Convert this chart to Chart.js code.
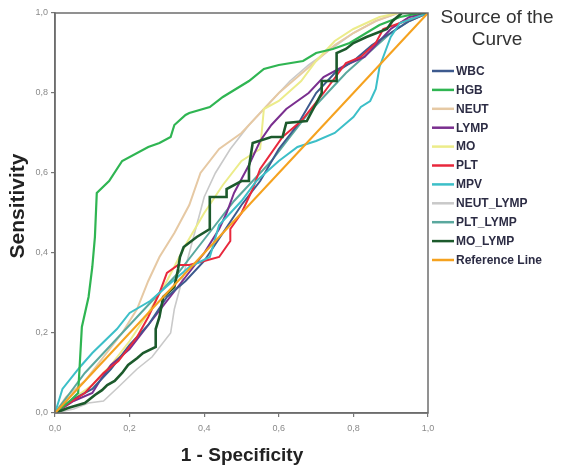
<!DOCTYPE html>
<html>
<head>
<meta charset="utf-8">
<script src="https://cdn.jsdelivr.net/npm/chart.js@4/dist/chart.umd.min.js"></script>
<style>
  body { margin: 0; background: #fff; }
  #wrap { width: 563px; height: 468px; }
</style>
</head>
<body>
<div id="wrap"><canvas id="rocChart" width="563" height="468"></canvas></div>
<script>
// ROC curves, points are [1 - specificity, sensitivity]
const wbc = [[0,0],[0.04,0.03],[0.1,0.06],[0.15,0.11],[0.2,0.17],[0.25,0.22],[0.3,0.29],[0.35,0.33],[0.4,0.38],[0.45,0.45],[0.5,0.52],[0.55,0.58],[0.6,0.66],[0.65,0.72],[0.7,0.8],[0.75,0.85],[0.8,0.88],[0.85,0.92],[0.9,0.95],[0.95,0.98],[1,1]];
const hgb = [[0,0],[0.04,0.03],[0.062,0.05],[0.066,0.115],[0.072,0.215],[0.09,0.29],[0.1,0.365],[0.107,0.44],[0.112,0.55],[0.145,0.58],[0.18,0.63],[0.25,0.665],[0.28,0.675],[0.31,0.69],[0.32,0.72],[0.35,0.745],[0.36,0.75],[0.415,0.765],[0.45,0.79],[0.52,0.83],[0.56,0.86],[0.6,0.87],[0.665,0.88],[0.7,0.9],[0.745,0.91],[0.79,0.925],[0.87,0.97],[0.925,0.99],[0.98,1],[1,1]];
const neut = [[0,0],[0.03,0.04],[0.08,0.08],[0.13,0.14],[0.18,0.2],[0.22,0.26],[0.25,0.33],[0.28,0.39],[0.32,0.45],[0.36,0.52],[0.39,0.6],[0.44,0.66],[0.5,0.7],[0.55,0.75],[0.6,0.8],[0.65,0.84],[0.7,0.88],[0.75,0.92],[0.8,0.95],[0.86,0.98],[0.92,1],[1,1]];
const lymp = [[0,0],[0.05,0.03],[0.1,0.05],[0.12,0.08],[0.15,0.12],[0.2,0.16],[0.25,0.22],[0.3,0.28],[0.35,0.34],[0.4,0.4],[0.44,0.46],[0.46,0.5],[0.48,0.55],[0.52,0.62],[0.55,0.68],[0.58,0.72],[0.62,0.76],[0.68,0.8],[0.72,0.84],[0.78,0.87],[0.83,0.89],[0.86,0.92],[0.9,0.96],[0.95,0.99],[1,1]];
const mo = [[0,0],[0.04,0.03],[0.1,0.07],[0.15,0.12],[0.2,0.18],[0.25,0.25],[0.3,0.33],[0.35,0.42],[0.4,0.5],[0.45,0.57],[0.5,0.63],[0.55,0.66],[0.56,0.76],[0.6,0.78],[0.66,0.83],[0.7,0.88],[0.75,0.93],[0.8,0.96],[0.87,0.99],[0.92,1],[1,1]];
const plt = [[0,0],[0.03,0.02],[0.08,0.05],[0.13,0.1],[0.17,0.13],[0.22,0.19],[0.25,0.24],[0.28,0.3],[0.3,0.35],[0.33,0.37],[0.36,0.37],[0.4,0.38],[0.44,0.39],[0.47,0.43],[0.47,0.46],[0.5,0.5],[0.53,0.56],[0.55,0.61],[0.61,0.69],[0.66,0.73],[0.72,0.8],[0.78,0.875],[0.82,0.89],[0.86,0.925],[0.88,0.96],[0.94,0.98],[1,1]];
const mpv = [[0,0],[0.02,0.06],[0.067,0.115],[0.1,0.15],[0.166,0.21],[0.2,0.25],[0.255,0.28],[0.31,0.325],[0.36,0.365],[0.415,0.39],[0.44,0.47],[0.5,0.53],[0.54,0.58],[0.6,0.63],[0.65,0.665],[0.7,0.68],[0.75,0.7],[0.8,0.74],[0.82,0.765],[0.845,0.78],[0.86,0.81],[0.87,0.865],[0.9,0.94],[0.925,0.975],[1,1]];
const neutLymp = [[0,0],[0.05,0.01],[0.09,0.025],[0.13,0.03],[0.17,0.065],[0.22,0.11],[0.26,0.14],[0.31,0.2],[0.32,0.26],[0.34,0.33],[0.36,0.4],[0.38,0.47],[0.4,0.54],[0.43,0.6],[0.47,0.66],[0.52,0.72],[0.58,0.78],[0.63,0.83],[0.68,0.87],[0.74,0.91],[0.8,0.95],[0.86,0.98],[0.92,1],[1,1]];
const pltLymp = [[0,0],[0.04,0.05],[0.08,0.1],[0.13,0.15],[0.18,0.2],[0.23,0.25],[0.28,0.3],[0.33,0.35],[0.38,0.41],[0.43,0.47],[0.48,0.53],[0.53,0.58],[0.58,0.63],[0.63,0.69],[0.68,0.75],[0.73,0.8],[0.78,0.85],[0.84,0.9],[0.9,0.95],[0.95,0.98],[1,1]];
const moLymp = [[0,0],[0.035,0.0125],[0.08,0.025],[0.107,0.045],[0.126,0.057],[0.14,0.07],[0.16,0.08],[0.18,0.1],[0.196,0.12],[0.22,0.137],[0.236,0.15],[0.27,0.165],[0.27,0.21],[0.28,0.24],[0.29,0.29],[0.32,0.315],[0.33,0.36],[0.335,0.39],[0.345,0.415],[0.38,0.44],[0.415,0.46],[0.415,0.54],[0.46,0.54],[0.46,0.56],[0.5,0.58],[0.52,0.58],[0.52,0.615],[0.53,0.675],[0.58,0.69],[0.61,0.69],[0.62,0.725],[0.675,0.73],[0.715,0.8],[0.715,0.83],[0.755,0.83],[0.755,0.9],[0.78,0.91],[0.8,0.925],[0.835,0.94],[0.89,0.96],[0.905,0.98],[0.93,1],[1,1]];
const refLine = [[0,0],[1,1]];

const seriesNames = ["WBC", "HGB", "NEUT", "LYMP", "MO", "PLT", "MPV", "NEUT_LYMP", "PLT_LYMP", "MO_LYMP", "Reference Line"];
const seriesData = [wbc, hgb, neut, lymp, mo, plt, mpv, neutLymp, pltLymp, moLymp, refLine];
const seriesColors = ["#3d5a8e", "#2fb552", "#e6c9a4", "#7a2f8f", "#ecec8a", "#e8283c", "#3cbfc8", "#c9c9c9", "#5aa89e", "#1c5a2c", "#f5a21f"];
const seriesWidths = [2, 2.2, 2, 2, 2, 2, 2, 1.6, 2, 2.6, 2.2];
const seriesOrder = [5, 2, 8, 5, 7, 4, 3, 9, 6, 1, 0];
const axisTicks = [0, 0.2, 0.4, 0.6, 0.8, 1];

const FONT = "'Liberation Sans', Arial, sans-serif";
const comma = (v) => v.toFixed(1).replace(".", ",");

// frame, axis titles and legend drawn by hand (SPSS style)
const rocDecor = {
  id: "rocDecor",
  afterDraw(chart) {
    const { ctx, chartArea } = chart;
    ctx.save();
    ctx.strokeStyle = "#6e6e6e";
    ctx.lineWidth = 1.5;
    ctx.strokeRect(chartArea.left, chartArea.top, chartArea.right - chartArea.left, chartArea.bottom - chartArea.top);

    // axis titles
    ctx.fillStyle = "#222";
    ctx.textAlign = "center";
    ctx.textBaseline = "middle";
    ctx.font = "bold 19px " + FONT;
    ctx.fillText("1 - Specificity", 242, 456);
    ctx.save();
    ctx.translate(18, 206);
    ctx.rotate(-Math.PI / 2);
    ctx.font = "bold 21px " + FONT;
    ctx.fillText("Sensitivity", 0, 0);
    ctx.restore();

    // legend
    ctx.fillStyle = "#333";
    ctx.font = "19px " + FONT;
    ctx.fillText("Source of the", 497, 18);
    ctx.fillText("Curve", 497, 40);

    ctx.textAlign = "left";
    ctx.font = "bold 12px " + FONT;
    seriesNames.forEach((name, i) => {
      const y = 71 + i * 18.9;
      ctx.strokeStyle = seriesColors[i];
      ctx.lineWidth = 2.5;
      ctx.beginPath();
      ctx.moveTo(432, y);
      ctx.lineTo(454, y);
      ctx.stroke();
      ctx.fillStyle = "#2c2c44";
      ctx.fillText(name, 456, y + 0.5);
    });
    ctx.restore();
  },
};

const initChart = () => {
  const ctx = document.getElementById("rocChart").getContext("2d");
  new Chart(ctx, {
    type: "line",
    data: {
      datasets: seriesData.map((pts, i) => ({
        label: seriesNames[i],
        data: pts.map((p) => ({ x: p[0], y: p[1] })),
        borderColor: seriesColors[i],
        borderWidth: seriesWidths[i],
        pointRadius: 0,
        tension: 0,
        fill: false,
        order: seriesOrder[i],
      })),
    },
    options: {
      responsive: false,
      animation: false,
      layout: { padding: { top: 13, right: 135, left: 0, bottom: 0 } },
      plugins: { legend: { display: false }, tooltip: { enabled: false } },
      scales: {
        x: {
          type: "linear",
          min: 0,
          max: 1,
          afterBuildTicks: (scale) => {
            scale.ticks = axisTicks.map((v) => ({ value: v }));
          },
          afterFit: (scale) => {
            scale.height = 55;
          },
          ticks: {
            callback: comma,
            color: "#8a8a8a",
            font: { size: 9, family: FONT },
            padding: 6,
            maxRotation: 0,
          },
          grid: { drawOnChartArea: false, tickLength: 4, color: "#777", lineWidth: 1.2 },
          border: { color: "#6e6e6e", width: 1.5 },
        },
        y: {
          type: "linear",
          min: 0,
          max: 1,
          afterBuildTicks: (scale) => {
            scale.ticks = axisTicks.map((v) => ({ value: v }));
          },
          afterFit: (scale) => {
            scale.width = 55;
          },
          ticks: {
            callback: comma,
            color: "#8a8a8a",
            font: { size: 9, family: FONT },
            padding: 3,
          },
          grid: { drawOnChartArea: false, tickLength: 4, color: "#777", lineWidth: 1.2 },
          border: { color: "#6e6e6e", width: 1.5 },
        },
      },
    },
    plugins: [rocDecor],
  });
};

document.addEventListener("DOMContentLoaded", initChart);
</script>
</body>
</html>
